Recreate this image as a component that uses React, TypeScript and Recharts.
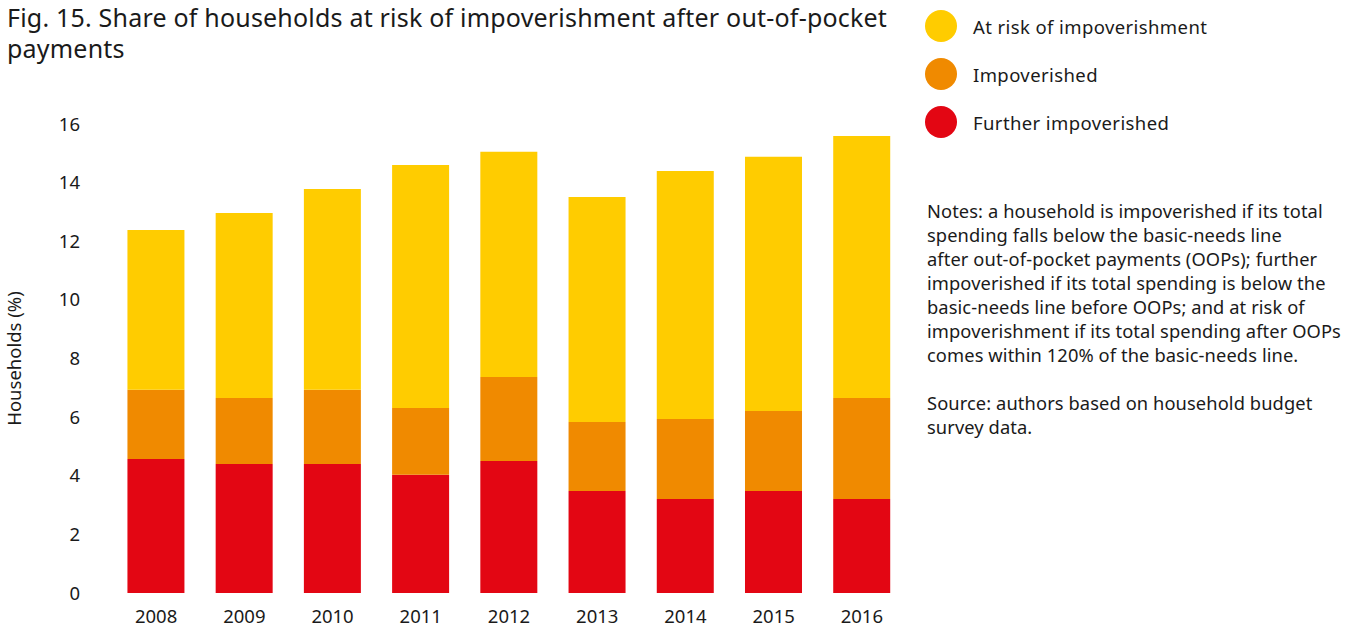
import React from 'react';
import { BarChart, Bar, XAxis, YAxis } from 'recharts';

const years = ['2008', '2009', '2010', '2011', '2012', '2013', '2014', '2015', '2016'];
const furtherImpoverished = [4.57, 4.4, 4.4, 4.03, 4.5, 3.48, 3.21, 3.48, 3.21];
const impoverished = [2.36, 2.25, 2.53, 2.28, 2.87, 2.35, 2.73, 2.73, 3.44];
const atRisk = [5.45, 6.31, 6.85, 8.29, 7.68, 7.68, 8.46, 8.67, 8.94];
const yTicks = [0, 2, 4, 6, 8, 10, 12, 14, 16];

const noteLines = [
  'Notes: a household is impoverished if its total',
  'spending falls below the basic-needs line',
  'after out-of-pocket payments (OOPs); further',
  'impoverished if its total spending is below the',
  'basic-needs line before OOPs; and at risk of',
  'impoverishment if its total spending after OOPs',
  'comes within 120% of the basic-needs line.',
];
const sourceLines = ['Source: authors based on household budget', 'survey data.'];

const data = years.map((year, i) => ({
  year,
  further: furtherImpoverished[i],
  impoverished: impoverished[i],
  atRisk: atRisk[i],
}));

const FONT = '"Noto Sans", "Open Sans", sans-serif';
const TEXT = '#1a1a1a';

const legendItems = [
  { label: 'At risk of impoverishment', color: '#FFCC00' },
  { label: 'Impoverished', color: '#F08A00' },
  { label: 'Further impoverished', color: '#E30613' },
];

export default function App() {
  return (
    <div
      style={{
        position: 'fixed',
        left: 0,
        top: 0,
        width: 1360,
        height: 633,
        background: '#fff',
        fontFamily: FONT,
        color: TEXT,
      }}
    >
      <div
        style={{
          position: 'absolute',
          left: 7,
          top: 2,
          width: 900,
          fontSize: 25,
          lineHeight: '31px',
          letterSpacing: 0.2,
        }}
      >
        Fig. 15. Share of households at risk of impoverishment after out-of-pocket payments
      </div>

      <BarChart
        width={1360}
        height={633}
        data={data}
        margin={{ top: 124, right: 454, bottom: 0, left: 0 }}
        barCategoryGap="17.5%"
        style={{ position: 'absolute', left: 0, top: 0, fontFamily: FONT }}
      >
        <XAxis
          dataKey="year"
          axisLine={false}
          tickLine={false}
          height={40}
          tickMargin={11}
          tick={{ fontSize: 18.5, fill: TEXT }}
        />
        <YAxis
          domain={[0, 16]}
          ticks={yTicks}
          axisLine={false}
          tickLine={false}
          width={112}
          tickMargin={26}
          tick={{ fontSize: 18.5, fill: TEXT }}
          label={{
            value: 'Households (%)',
            angle: -90,
            position: 'insideLeft',
            offset: 14,
            style: { fontSize: 18.5, fill: TEXT, textAnchor: 'middle' },
          }}
        />
        <Bar dataKey="further" name="Further impoverished" stackId="a" fill="#E30613" isAnimationActive={false} />
        <Bar dataKey="impoverished" name="Impoverished" stackId="a" fill="#F08A00" isAnimationActive={false} />
        <Bar dataKey="atRisk" name="At risk of impoverishment" stackId="a" fill="#FFCC00" isAnimationActive={false} />
      </BarChart>

      <div style={{ position: 'absolute', left: 925, top: 2 }}>
        {legendItems.map((item) => (
          <div key={item.label} style={{ display: 'flex', alignItems: 'center', height: 48 }}>
            <span
              style={{
                width: 32,
                height: 32,
                borderRadius: '50%',
                background: item.color,
                display: 'inline-block',
                marginRight: 16,
              }}
            />
            <span style={{ fontSize: 18.5, color: TEXT, letterSpacing: 0.4 }}>{item.label}</span>
          </div>
        ))}
      </div>

      <div
        style={{
          position: 'absolute',
          left: 927,
          top: 199,
          fontSize: 18.3,
          lineHeight: '24px',
          letterSpacing: 0.1,
          whiteSpace: 'nowrap',
        }}
      >
        {noteLines.map((l) => (
          <div key={l}>{l}</div>
        ))}
        <div style={{ height: 24 }} />
        {sourceLines.map((l) => (
          <div key={l}>{l}</div>
        ))}
      </div>
    </div>
  );
}
